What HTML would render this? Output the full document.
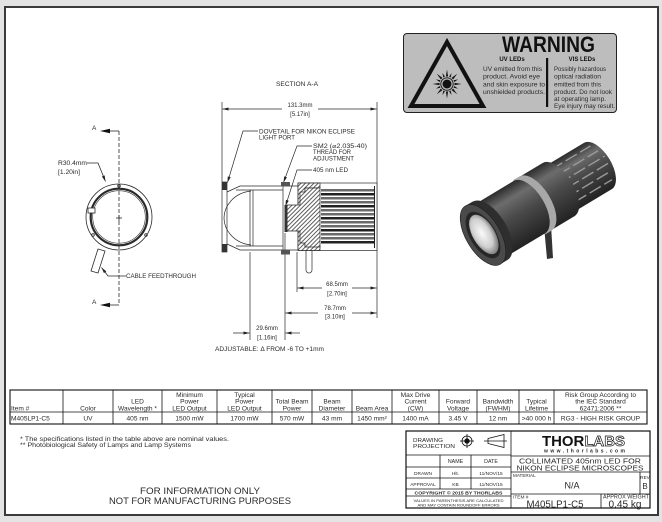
<!DOCTYPE html>
<html><head><meta charset="utf-8"><title>M405LP1-C5</title>
<style>
html,body{margin:0;padding:0;background:#e3e3e3;width:662px;height:522px;overflow:hidden}
svg{display:block}
text{font-family:"Liberation Sans","DejaVu Sans",sans-serif;fill:#2a2a2a}
</style></head><body>
<svg width="662" height="522" viewBox="0 0 662 522" xmlns="http://www.w3.org/2000/svg">
<defs>
<marker id="ar" viewBox="0 0 8 4" refX="8" refY="2" markerWidth="6" markerHeight="3" orient="auto" markerUnits="userSpaceOnUse"><path d="M0,0L8,2L0,4z" fill="#222"/></marker>
<pattern id="hatch" width="3" height="3" patternUnits="userSpaceOnUse" patternTransform="rotate(45)"><rect width="3" height="3" fill="#fff"/><line x1="0.5" y1="0" x2="0.5" y2="3" stroke="#333" stroke-width="0.8"/></pattern>
<linearGradient id="cyl" x1="0" y1="0" x2="0" y2="1">
 <stop offset="0" stop-color="#2c2c2c"/><stop offset="0.22" stop-color="#6c6c6c"/><stop offset="0.5" stop-color="#4a4a4a"/><stop offset="1" stop-color="#222"/>
</linearGradient>
<radialGradient id="lens" cx="0.45" cy="0.45" r="0.6"><stop offset="0" stop-color="#fafafa"/><stop offset="0.6" stop-color="#cfcfcf"/><stop offset="1" stop-color="#6a6a6a"/></radialGradient>
</defs>

<!-- sheet -->
<rect x="0" y="0" width="662" height="522" fill="#e3e3e3"/>
<rect x="5" y="7" width="653" height="508" fill="#fff" stroke="#3a3a3a" stroke-width="2"/>

<!-- WARNING label -->
<rect x="403.5" y="33.5" width="213" height="79" rx="3.5" fill="#bdbdbd" stroke="#222" stroke-width="1"/>
<polygon points="447,42 411,106 483,106" fill="none" stroke="#111" stroke-width="4"/>
<g transform="translate(447,84)" fill="#111">
 <circle r="4.5"/>
 <circle r="6.2" fill="none" stroke="#111" stroke-width="0.9"/>
 <path d="M-1.1,-7.5L0,-14.5L1.1,-7.5Z"/>
 <path d="M-1.1,-7.5L0,-14.5L1.1,-7.5Z" transform="rotate(45)"/>
 <path d="M-1.1,-7.5L0,-14.5L1.1,-7.5Z" transform="rotate(90)"/>
 <path d="M-1.1,-7.5L0,-14.5L1.1,-7.5Z" transform="rotate(135)"/>
 <path d="M-1.1,-7.5L0,-14.5L1.1,-7.5Z" transform="rotate(180)"/>
 <path d="M-1.1,-7.5L0,-14.5L1.1,-7.5Z" transform="rotate(225)"/>
 <path d="M-1.1,-7.5L0,-14.5L1.1,-7.5Z" transform="rotate(270)"/>
 <path d="M-1.1,-7.5L0,-14.5L1.1,-7.5Z" transform="rotate(315)"/>
 <path d="M-0.9,-7.5L0,-12L0.9,-7.5Z" transform="rotate(22.5)"/>
 <path d="M-0.9,-7.5L0,-12L0.9,-7.5Z" transform="rotate(67.5)"/>
 <path d="M-0.9,-7.5L0,-12L0.9,-7.5Z" transform="rotate(112.5)"/>
 <path d="M-0.9,-7.5L0,-12L0.9,-7.5Z" transform="rotate(157.5)"/>
 <path d="M-0.9,-7.5L0,-12L0.9,-7.5Z" transform="rotate(202.5)"/>
 <path d="M-0.9,-7.5L0,-12L0.9,-7.5Z" transform="rotate(247.5)"/>
 <path d="M-0.9,-7.5L0,-12L0.9,-7.5Z" transform="rotate(292.5)"/>
 <path d="M-0.9,-7.5L0,-12L0.9,-7.5Z" transform="rotate(337.5)"/>
</g>
<text x="502" y="52" font-size="22" font-weight="bold" textLength="93" lengthAdjust="spacingAndGlyphs" style="fill:#111">WARNING</text>
<text x="512" y="61" font-size="6" font-weight="bold" text-anchor="middle" style="fill:#111">UV LEDs</text>
<text x="582" y="61" font-size="6" font-weight="bold" text-anchor="middle" style="fill:#111">VIS LEDs</text>
<rect x="546" y="58" width="2.2" height="49" fill="#111"/>
<g font-size="6.3" style="fill:#1a1a1a">
 <text x="483" y="71" textLength="59" lengthAdjust="spacingAndGlyphs">UV emitted from this</text>
 <text x="483" y="78.7" textLength="57" lengthAdjust="spacingAndGlyphs">product. Avoid eye</text>
 <text x="483" y="86.3" textLength="62" lengthAdjust="spacingAndGlyphs">and skin exposure to</text>
 <text x="483" y="94" textLength="62" lengthAdjust="spacingAndGlyphs">unshielded products.</text>
 <text x="554" y="71" textLength="52" lengthAdjust="spacingAndGlyphs">Possibly hazardous</text>
 <text x="554" y="78.7" textLength="47" lengthAdjust="spacingAndGlyphs">optical radiation</text>
 <text x="554" y="86.3" textLength="47" lengthAdjust="spacingAndGlyphs">emitted from this</text>
 <text x="554" y="94" textLength="58" lengthAdjust="spacingAndGlyphs">product. Do not look</text>
 <text x="554" y="101" textLength="52" lengthAdjust="spacingAndGlyphs">at operating lamp.</text>
 <text x="554" y="108" textLength="61" lengthAdjust="spacingAndGlyphs">Eye injury may result.</text>
</g>

<!-- LEFT VIEW -->
<g stroke="#2a2a2a" fill="none" stroke-width="0.8">
 <line x1="119" y1="131" x2="119" y2="305" stroke-dasharray="4,2"/>
 <line x1="108" y1="131" x2="119" y2="131"/>
 <line x1="108" y1="305" x2="119" y2="305"/>
 <circle cx="119" cy="217" r="33"/>
 <circle cx="119" cy="217" r="28.3" stroke-width="2.2"/>
 <circle cx="119" cy="217" r="26.3" stroke-width="0.6"/>
 <rect x="88" y="208" width="7" height="5" fill="#fff"/>
 <circle cx="93" cy="235" r="1.3"/>
 <circle cx="146" cy="235" r="1.3"/>
 <circle cx="119" cy="186" r="1.3"/>
 <line x1="116" y1="218" x2="122" y2="218"/>
 <line x1="119" y1="215" x2="119" y2="221"/>
 <path d="M98,249 L105,251 L98,273 L91,271 Z" fill="#fff"/>
 <path d="M87,163 L98,163 L105.5,181.5" marker-end="url(#ar)"/>
 <path d="M126,276 L108,276 L101.5,267.5" marker-end="url(#ar)"/>
</g>
<polygon points="100,131 110,128.8 110,133.2" fill="#111"/>
<polygon points="100,305 110,302.8 110,307.2" fill="#111"/>
<g font-size="6" style="fill:#333">
 <text x="92" y="130" font-size="6.5">A</text>
 <text x="92" y="304" font-size="6.5">A</text>
 <text x="58" y="165" textLength="29" lengthAdjust="spacingAndGlyphs">R30.4mm</text>
 <text x="58" y="174" textLength="22" lengthAdjust="spacingAndGlyphs">[1.20in]</text>
 <text x="126" y="278" textLength="70" lengthAdjust="spacingAndGlyphs">CABLE FEEDTHROUGH</text>
</g>

<!-- SECTION VIEW -->
<g font-size="6" style="fill:#333">
 <text x="297" y="86" text-anchor="middle" textLength="42" lengthAdjust="spacingAndGlyphs">SECTION A-A</text>
 <text x="300" y="107" text-anchor="middle">131.3mm</text>
 <text x="300" y="116" text-anchor="middle">[5.17in]</text>
 <text x="259" y="133.5" textLength="96" lengthAdjust="spacingAndGlyphs">DOVETAIL FOR NIKON ECLIPSE</text>
 <text x="259" y="139.5" textLength="36" lengthAdjust="spacingAndGlyphs">LIGHT PORT</text>
 <text x="313" y="148" textLength="54" lengthAdjust="spacingAndGlyphs">SM2 (⌀2.035-40)</text>
 <text x="313" y="154" textLength="38" lengthAdjust="spacingAndGlyphs">THREAD FOR</text>
 <text x="313" y="160.5" textLength="41" lengthAdjust="spacingAndGlyphs">ADJUSTMENT</text>
 <text x="313" y="172" textLength="35" lengthAdjust="spacingAndGlyphs">405 nm LED</text>
 <text x="337" y="286" text-anchor="middle">68.5mm</text>
 <text x="337" y="295.5" text-anchor="middle">[2.70in]</text>
 <text x="335" y="310" text-anchor="middle">78.7mm</text>
 <text x="335" y="318.5" text-anchor="middle">[3.10in]</text>
 <text x="267" y="330" text-anchor="middle">29.6mm</text>
 <text x="267" y="339.5" text-anchor="middle">[1.16in]</text>
 <text x="215" y="351" textLength="109" lengthAdjust="spacingAndGlyphs">ADJUSTABLE: Δ FROM -6 TO +1mm</text>
</g>
<g stroke="#2a2a2a" stroke-width="0.7" fill="none">
 <line x1="222" y1="102" x2="222" y2="182"/>
 <line x1="377" y1="102" x2="377" y2="318"/>
 <line x1="282" y1="109" x2="222.5" y2="109" marker-end="url(#ar)"/>
 <line x1="318" y1="109" x2="376.5" y2="109" marker-end="url(#ar)"/>
 <path d="M258,131 L243,131 L227.5,182.5" marker-end="url(#ar)"/>
 <path d="M312,146 L297,146 L283.5,182.5" marker-end="url(#ar)"/>
 <path d="M312,170 L297,170 L285.5,206" marker-end="url(#ar)"/>
 <rect x="222" y="182" width="5" height="70" fill="#fff"/>
 <path d="M227,192 L240,186 L298,186 M227,244 L240,250 L298,250"/>
 <line x1="236" y1="190" x2="283" y2="190"/>
 <line x1="236" y1="246" x2="283" y2="246"/>
 <path d="M251,191 C233,193 224,207 224,218 C224,229 233,243 251,245"/>
 <line x1="250" y1="190" x2="250" y2="246"/>
 <line x1="253" y1="190" x2="253" y2="246"/>
 <line x1="283" y1="186" x2="283" y2="250"/>
 <rect x="298" y="183" width="79" height="67.5" fill="#fff"/>
 <path d="M298,183 L320,183 L320,188 L305,188 L305,246 L320,246 L320,250.5 L298,250.5 Z" fill="url(#hatch)"/>
 <path d="M287,205 L300,205 L300,192 L305,192 L305,188 L320,188 L320,247 L305,247 L305,243 L300,243 L300,231 L287,231 Z" fill="url(#hatch)"/>
 <line x1="297" y1="252" x2="297" y2="292"/>
 <line x1="322" y1="288" x2="297.5" y2="288" marker-end="url(#ar)"/>
 <line x1="352" y1="288" x2="376.5" y2="288" marker-end="url(#ar)"/>
 <line x1="285" y1="233" x2="285" y2="340"/>
 <line x1="318" y1="313" x2="285.5" y2="313" marker-end="url(#ar)"/>
 <line x1="352" y1="313" x2="376.5" y2="313" marker-end="url(#ar)"/>
 <line x1="250" y1="252" x2="250" y2="340"/>
 <line x1="233" y1="333" x2="249.5" y2="333" marker-end="url(#ar)"/>
 <line x1="300" y1="333" x2="285.5" y2="333" marker-end="url(#ar)"/>
 <path d="M306,251 V270 a3,3 0 0 0 6,0 V251" fill="#fff"/>
</g>
<g fill="#333">
 <rect x="222" y="182" width="5" height="8"/>
 <rect x="222" y="244" width="5" height="8"/>
 <rect x="281" y="182" width="9" height="4.5" fill="#555"/>
 <rect x="281" y="250" width="9" height="4.5" fill="#555"/>
 <rect x="284.5" y="205" width="3" height="27"/>
</g>
<g fill="#6a6a6a">
 <rect x="321" y="189" width="53" height="2.5"/>
 <rect x="321" y="193" width="53" height="2.5" fill="#222"/>
 <rect x="321" y="197" width="53" height="2.5"/>
 <rect x="321" y="201" width="53" height="2.5"/>
 <rect x="321" y="205" width="53" height="2.5" fill="#222"/>
 <rect x="321" y="209" width="53" height="2.5"/>
 <rect x="321" y="213" width="53" height="2.5"/>
 <rect x="321" y="217" width="53" height="2.5" fill="#222"/>
 <rect x="321" y="221" width="53" height="2.5"/>
 <rect x="321" y="225" width="53" height="2.5"/>
 <rect x="321" y="229" width="53" height="2.5" fill="#222"/>
 <rect x="321" y="233" width="53" height="2.5"/>
 <rect x="321" y="237" width="53" height="2.5"/>
 <rect x="321" y="241" width="53" height="2.5" fill="#222"/>
 <rect x="374" y="186" width="1" height="62" fill="#222"/>
</g>

<!-- 3D RENDER -->
<path d="M544,226 L551,225 L553,258 L547,259 Z" fill="#333"/>
<g transform="translate(483,235) rotate(-31)">
 <path d="M88,-27 L134,-27 A13.5,27 0 0 1 134,27 L88,27 Z" fill="url(#cyl)"/>
 <g stroke="#9a9a9a" stroke-width="1.4" stroke-dasharray="13,4">
  <line x1="92" y1="-21" x2="138" y2="-21"/>
  <line x1="96" y1="-13" x2="142" y2="-13"/>
  <line x1="92" y1="-5" x2="145" y2="-5"/>
  <line x1="97" y1="3" x2="145" y2="3"/>
  <line x1="92" y1="11" x2="143" y2="11"/>
  <line x1="96" y1="19" x2="139" y2="19"/>
 </g>
 <path d="M60,-31 L88,-31 A15.5,31 0 0 1 88,31 L60,31 Z" fill="url(#cyl)"/>
 <path d="M54,-31.5 L61,-31.5 A15.75,31.5 0 0 1 61,31.5 L54,31.5 Z" fill="#a8a8a8"/>
 <path d="M8,-30.5 L54,-30.5 A15.25,30.5 0 0 1 54,30.5 L8,30.5 Z" fill="url(#cyl)"/>
 <path d="M0,-34 L8,-34 A17,34 0 0 1 8,34 L0,34 Z" fill="#2e2e2e"/>
 <ellipse cx="0" cy="0" rx="17" ry="34" fill="#4a4a4a" stroke="#1e1e1e" stroke-width="0.6"/>
 <ellipse cx="0" cy="0" rx="13" ry="26" fill="#262626"/>
 <ellipse cx="1" cy="0" rx="11" ry="22" fill="url(#lens)"/>
</g>

<!-- SPEC TABLE -->
<g stroke="#111" fill="none" stroke-width="0.8">
 <rect x="10" y="390" width="637" height="34" stroke-width="1.1"/>
 <line x1="10" y1="412" x2="647" y2="412"/>
 <line x1="63" y1="390" x2="63" y2="424"/>
 <line x1="113" y1="390" x2="113" y2="424"/>
 <line x1="162" y1="390" x2="162" y2="424"/>
 <line x1="217" y1="390" x2="217" y2="424"/>
 <line x1="272" y1="390" x2="272" y2="424"/>
 <line x1="312" y1="390" x2="312" y2="424"/>
 <line x1="352" y1="390" x2="352" y2="424"/>
 <line x1="392" y1="390" x2="392" y2="424"/>
 <line x1="439" y1="390" x2="439" y2="424"/>
 <line x1="477" y1="390" x2="477" y2="424"/>
 <line x1="519" y1="390" x2="519" y2="424"/>
 <line x1="554" y1="390" x2="554" y2="424"/>
</g>
<g font-size="6.6" text-anchor="middle" style="fill:#222">
 <text x="11" y="410.5" text-anchor="start">Item #</text>
 <text x="88" y="410.5">Color</text>
 <text x="137.5" y="403.5">LED</text><text x="137.5" y="410.5">Wavelength *</text>
 <text x="189.5" y="397">Minimum</text><text x="189.5" y="403.5">Power</text><text x="189.5" y="410.5">LED Output</text>
 <text x="244.5" y="397">Typical</text><text x="244.5" y="403.5">Power</text><text x="244.5" y="410.5">LED Output</text>
 <text x="292" y="403.5">Total Beam</text><text x="292" y="410.5">Power</text>
 <text x="332" y="403.5">Beam</text><text x="332" y="410.5">Diameter</text>
 <text x="372" y="410.5">Beam Area</text>
 <text x="415.5" y="397">Max Drive</text><text x="415.5" y="403.5">Current</text><text x="415.5" y="410.5">(CW)</text>
 <text x="458" y="403.5">Forward</text><text x="458" y="410.5">Voltage</text>
 <text x="498" y="403.5">Bandwidth</text><text x="498" y="410.5">(FWHM)</text>
 <text x="536.5" y="403.5">Typical</text><text x="536.5" y="410.5">Lifetime</text>
 <text x="600.5" y="397">Risk Group According to</text><text x="600.5" y="403.5">the IEC Standard</text><text x="600.5" y="410.5">62471:2006 **</text>
 <text x="11" y="420.5" text-anchor="start">M405LP1-C5</text>
 <text x="88" y="420.5">UV</text>
 <text x="137.5" y="420.5">405 nm</text>
 <text x="189.5" y="420.5">1500 mW</text>
 <text x="244.5" y="420.5">1700 mW</text>
 <text x="292" y="420.5">570 mW</text>
 <text x="332" y="420.5">43 mm</text>
 <text x="372" y="420.5">1450 mm²</text>
 <text x="415.5" y="420.5">1400 mA</text>
 <text x="458" y="420.5">3.45 V</text>
 <text x="498" y="420.5">12 nm</text>
 <text x="536.5" y="420.5">&gt;40 000 h</text>
 <text x="600.5" y="420.5">RG3 - HIGH RISK GROUP</text>
</g>

<!-- NOTES -->
<g font-size="6" style="fill:#333">
 <text x="20" y="441" textLength="209" lengthAdjust="spacingAndGlyphs">* The specifications listed in the table above are nominal values.</text>
 <text x="20" y="447" textLength="171" lengthAdjust="spacingAndGlyphs">** Photobiological Safety of Lamps and Lamp Systems</text>
</g>
<g font-size="9.5" text-anchor="middle" style="fill:#333">
 <text x="200" y="494" textLength="120" lengthAdjust="spacingAndGlyphs">FOR INFORMATION ONLY</text>
 <text x="200" y="504" textLength="182" lengthAdjust="spacingAndGlyphs">NOT FOR MANUFACTURING PURPOSES</text>
</g>

<!-- TITLE BLOCK -->
<g stroke="#111" fill="none" stroke-width="0.8">
 <rect x="406" y="431" width="244" height="77" stroke-width="1.2"/>
 <line x1="511" y1="431" x2="511" y2="508"/>
 <line x1="406" y1="455" x2="511" y2="455"/>
 <line x1="406" y1="467" x2="511" y2="467"/>
 <line x1="406" y1="478" x2="511" y2="478"/>
 <line x1="406" y1="489" x2="511" y2="489"/>
 <line x1="406" y1="496" x2="511" y2="496"/>
 <line x1="440" y1="455" x2="440" y2="489"/>
 <line x1="471" y1="455" x2="471" y2="489"/>
 <line x1="511" y1="456" x2="650" y2="456"/>
 <line x1="511" y1="472" x2="650" y2="472"/>
 <line x1="511" y1="494" x2="650" y2="494"/>
 <line x1="640" y1="472" x2="640" y2="494"/>
 <line x1="601" y1="494" x2="601" y2="508"/>
 <circle cx="467" cy="441" r="5"/>
 <circle cx="467" cy="441" r="2.3" fill="#111"/>
 <line x1="460" y1="441" x2="474" y2="441"/>
 <line x1="467" y1="434" x2="467" y2="448"/>
 <polygon points="488,438.5 504,434.5 504,447.5 488,443.5"/>
 <line x1="484" y1="441" x2="507" y2="441"/>
</g>
<g style="fill:#222">
 <text x="413" y="442" font-size="5.5" textLength="30" lengthAdjust="spacingAndGlyphs">DRAWING</text>
 <text x="413" y="448" font-size="5.5" textLength="42" lengthAdjust="spacingAndGlyphs">PROJECTION</text>
 <text x="455.5" y="463" font-size="5.3" text-anchor="middle">NAME</text>
 <text x="491" y="463" font-size="5.3" text-anchor="middle">DATE</text>
 <text x="423" y="475" font-size="4.8" text-anchor="middle">DRAWN</text>
 <text x="455.5" y="475" font-size="4.8" text-anchor="middle">Hlt.</text>
 <text x="491" y="475" font-size="4.8" text-anchor="middle">11/NOV/15</text>
 <text x="423" y="486" font-size="4.8" text-anchor="middle">APPROVAL</text>
 <text x="455.5" y="486" font-size="4.8" text-anchor="middle">KB</text>
 <text x="491" y="486" font-size="4.8" text-anchor="middle">11/NOV/15</text>
 <text x="458.5" y="494.3" font-size="4.2" font-weight="bold" text-anchor="middle" textLength="88" lengthAdjust="spacingAndGlyphs">COPYRIGHT © 2015 BY THORLABS</text>
 <text x="458.5" y="502" font-size="3.9" text-anchor="middle" textLength="90" lengthAdjust="spacingAndGlyphs">VALUES IN PARENTHESIS ARE CALCULATED</text>
 <text x="458.5" y="506.5" font-size="3.9" text-anchor="middle" textLength="82" lengthAdjust="spacingAndGlyphs">AND MAY CONTAIN ROUNDOFF ERRORS</text>
 <text x="542" y="446" font-size="15" font-weight="bold" textLength="83" lengthAdjust="spacingAndGlyphs" style="fill:#111">THOR<tspan style="fill:#fff;stroke:#111;stroke-width:0.7">LABS</tspan></text>
 <text x="544" y="452.5" font-size="5" font-weight="bold" textLength="81" lengthAdjust="spacing">www.thorlabs.com</text>
 <text x="580" y="463.5" font-size="7.5" text-anchor="middle" textLength="122" lengthAdjust="spacingAndGlyphs">COLLIMATED 405nm LED FOR</text>
 <text x="580" y="470.5" font-size="7.5" text-anchor="middle" textLength="127" lengthAdjust="spacingAndGlyphs">NIKON ECLIPSE MICROSCOPES</text>
 <text x="513" y="477" font-size="4.6">MATERIAL</text>
 <text x="572" y="488.5" font-size="9" text-anchor="middle">N/A</text>
 <text x="645" y="479" font-size="4.6" text-anchor="middle">REV</text>
 <text x="645" y="489" font-size="8" text-anchor="middle">B</text>
 <text x="513" y="498.5" font-size="4.8">ITEM #</text>
 <text x="555" y="507.5" font-size="10" text-anchor="middle" textLength="57" lengthAdjust="spacingAndGlyphs">M405LP1-C5</text>
 <text x="603" y="498.5" font-size="5" textLength="46" lengthAdjust="spacingAndGlyphs">APPROX WEIGHT</text>
 <text x="625" y="507.5" font-size="10" text-anchor="middle" textLength="33" lengthAdjust="spacingAndGlyphs">0.45 kg</text>
</g>
</svg>
</body></html>
